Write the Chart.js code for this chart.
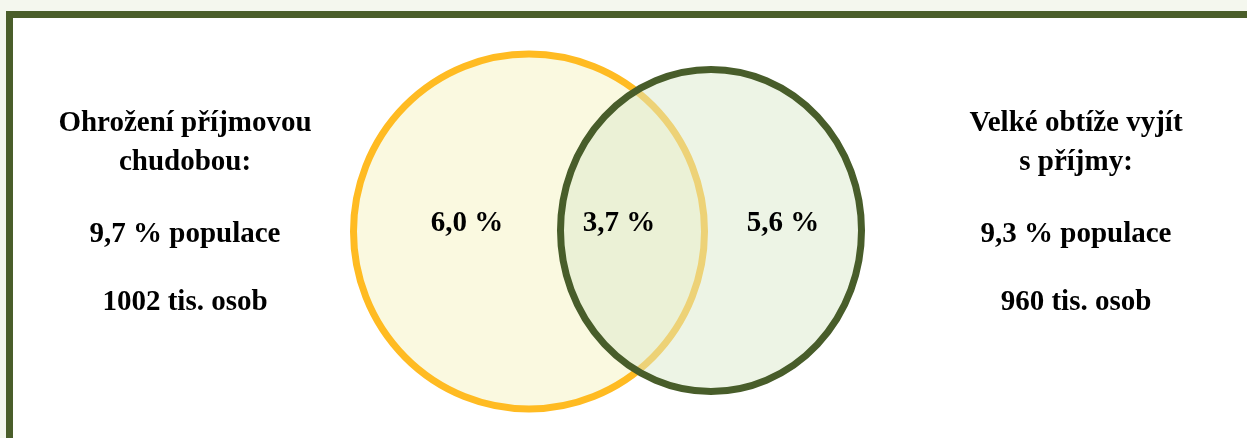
<!DOCTYPE html>
<html>
<head>
<meta charset="utf-8">
<script src="https://cdn.jsdelivr.net/npm/chart.js@4/dist/chart.umd.min.js"></script>
<style>
  html, body { margin: 0; padding: 0; background: #f4f7ee; overflow: hidden; }
  #frame { position: absolute; left: 6px; top: 11px; right: 0; bottom: 0;
           border-left: 7px solid #4a5e2a; border-top: 7px solid #4a5e2a; background: #fff; }
  #wrap { position: absolute; left: 0; top: 0; width: 1247px; height: 438px; }
</style>
</head>
<body>
<div id="frame"></div>
<div id="wrap"><canvas id="venn"></canvas></div>
<script>
// group titles (left circle, right circle)
const titleLines = [
  ['Ohrožení příjmovou', 'chudobou:'],
  ['Velké obtíže vyjít', 's příjmy:']
]
// share of population in each group, %
const populationShare = [9.7, 9.3]
// persons in each group, thousands
const personsThousands = [1002, 960]
// Venn regions: only left, both, only right (% of population)
const regionNames = ['jen ohrožení', 'obojí', 'jen obtíže']
const regionShares = [6.0, 3.7, 5.6]

const fmt = v => v.toFixed(1).replace('.', ',')

// layout in canvas units (the scales below map 1:1 to pixels)
const circles = [
  { cx: 529, cy: 231.5, rx: 175.5, ry: 177.5, fill: '#faf9e0', stroke: '#ffbb22' },
  { cx: 711, cy: 230.5, rx: 150.5, ry: 161, fill: 'rgba(219,233,203,0.5)', stroke: '#485d2a' }
]
const regionX = [467, 619, 783]
const regionY = 231
const sideX = [185, 1076]
const sideY = [131, 170, 242, 310]

const vennPlugin = {
  id: 'venn',
  afterDatasetsDraw(chart) {
    const ctx = chart.ctx
    const xs = chart.scales.x
    const ys = chart.scales.y
    ctx.save()
    circles.forEach(c => {
      const x = xs.getPixelForValue(c.cx)
      const y = ys.getPixelForValue(c.cy)
      const rx = xs.getPixelForValue(c.cx + c.rx) - x
      const ry = ys.getPixelForValue(c.cy + c.ry) - y
      ctx.beginPath()
      ctx.ellipse(x, y, Math.abs(rx), Math.abs(ry), 0, 0, Math.PI * 2)
      ctx.fillStyle = c.fill
      ctx.fill()
      ctx.lineWidth = 7
      ctx.strokeStyle = c.stroke
      ctx.stroke()
    })
    ctx.fillStyle = '#000'
    ctx.textAlign = 'center'
    ctx.textBaseline = 'alphabetic'
    ctx.font = 'bold 29px "Liberation Serif", "Times New Roman", serif'
    const meta = chart.getDatasetMeta(0)
    meta.data.forEach((pt, i) => {
      ctx.fillText(`${fmt(regionShares[i])} %`, pt.x, pt.y)
    })
    titleLines.forEach((lines, g) => {
      const x = xs.getPixelForValue(sideX[g])
      const rows = [...lines, `${fmt(populationShare[g])} % populace`, `${personsThousands[g]} tis. osob`]
      rows.forEach((t, r) => ctx.fillText(t, x, ys.getPixelForValue(sideY[r])))
    })
    ctx.restore()
  }
}

new Chart(document.getElementById('venn'), {
  type: 'scatter',
  data: {
    labels: regionNames,
    datasets: [{
      data: regionShares.map((v, i) => ({ x: regionX[i], y: regionY })),
      pointRadius: 0
    }]
  },
  options: {
    responsive: true,
    maintainAspectRatio: false,
    animation: false,
    events: [],
    layout: { padding: 0 },
    scales: {
      x: { type: 'linear', min: 0, max: 1247, display: false },
      y: { type: 'linear', min: 0, max: 438, reverse: true, display: false }
    },
    plugins: { legend: { display: false }, tooltip: { enabled: false } }
  },
  plugins: [vennPlugin]
})
</script>
</body>
</html>
